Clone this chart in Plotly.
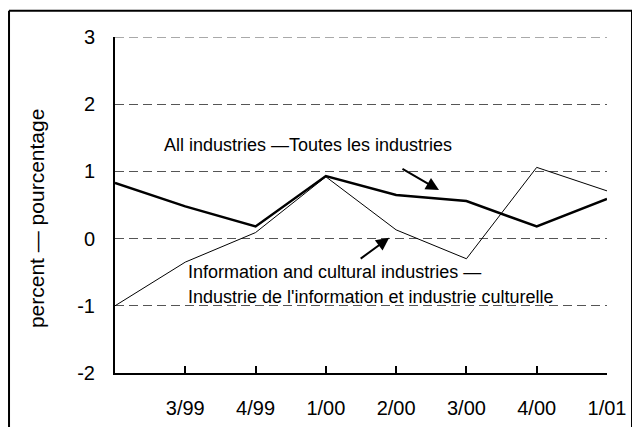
import plotly.graph_objects as go

# ---- data ----
quarters = ["2/99", "3/99", "4/99", "1/00", "2/00", "3/00", "4/00", "1/01"]
tick_labels = ["3/99", "4/99", "1/00", "2/00", "3/00", "4/00", "1/01"]
all_industries = [0.83, 0.48, 0.18, 0.93, 0.65, 0.56, 0.18, 0.59]
info_cultural = [-1.00, -0.35, 0.09, 0.92, 0.13, -0.30, 1.06, 0.71]
y_ticks = [-2, -1, 0, 1, 2, 3]

FONT = "Liberation Sans, Arial, sans-serif"
GRID_COLOR = "#555555"
GRID_DASH = "9px,5px"

fig = go.Figure()
fig.add_trace(go.Scatter(x=quarters, y=info_cultural, mode="lines",
                         line=dict(color="black", width=1), showlegend=False))
fig.add_trace(go.Scatter(x=quarters, y=all_industries, mode="lines",
                         line=dict(color="black", width=2.5), showlegend=False))

fig.update_layout(
    width=640, height=427,
    margin=dict(l=107, r=41, t=29, b=62),
    paper_bgcolor="white", plot_bgcolor="white",
    font=dict(family=FONT, color="black", size=20),
    showlegend=False,
)
fig.update_xaxes(
    type="category", range=[0, len(quarters) - 1],
    tickvals=quarters[1:], ticktext=tick_labels,
    showline=True, linecolor="black", linewidth=2,
    ticks="inside", ticklen=7, tickwidth=2, tickcolor="black",
    ticklabelstandoff=16, showgrid=False, zeroline=False,
    tickfont=dict(size=20),
)
fig.update_yaxes(
    range=[-2, 3], tickvals=y_ticks, ticktext=[str(v) for v in y_ticks],
    showline=True, linecolor="black", linewidth=2, ticks="",
    showgrid=True, gridcolor=GRID_COLOR, gridwidth=1, griddash=GRID_DASH,
    zeroline=False, ticklabelstandoff=14, tickfont=dict(size=20),
)

# top gridline (at the range edge)
fig.add_shape(type="line", xref="paper", yref="y", x0=0, x1=1,
              y0=y_ticks[-1], y1=y_ticks[-1],
              line=dict(color=GRID_COLOR, width=1, dash=GRID_DASH), layer="below")

# outer frame (drawn as separate lines)
frame = dict(color="black", width=2)
fig.add_shape(type="line", xref="paper", yref="paper",
              x0=-0.2154, x1=1.0508, y0=1.078, y1=1.078, line=frame)
fig.add_shape(type="line", xref="paper", yref="paper",
              x0=-0.2154, x1=-0.2154, y0=-0.5, y1=1.078, line=frame)
fig.add_shape(type="line", xref="paper", yref="paper",
              x0=1.0508, x1=1.0508, y0=-0.5, y1=1.078, line=frame)

ann_font = dict(family=FONT, size=18, color="black")
fig.add_annotation(text="percent — pourcentage", textangle=-90,
                   xref="paper", yref="paper", x=-0.1606, y=0.461,
                   xanchor="center", yanchor="middle", showarrow=False,
                   font=dict(family=FONT, size=21, color="black"))
fig.add_annotation(text="All industries —Toutes les industries",
                   xref="paper", yref="paper", x=0.0955, y=0.6786,
                   xanchor="left", yanchor="middle", showarrow=False, font=ann_font)
fig.add_annotation(text="Information and cultural industries —",
                   xref="paper", yref="paper", x=0.1443, y=0.3015,
                   xanchor="left", yanchor="middle", showarrow=False, font=ann_font)
fig.add_annotation(text="Industrie de l'information et industrie culturelle",
                   xref="paper", yref="paper", x=0.1443, y=0.2271,
                   xanchor="left", yanchor="middle", showarrow=False, font=ann_font)
# arrows
fig.add_annotation(text="", xref="paper", yref="paper", x=0.6585, y=0.5446,
                   ax=-38, ay=-22, showarrow=True, arrowhead=2, arrowsize=1.3,
                   arrowwidth=2, arrowcolor="black")
fig.add_annotation(text="", xref="paper", yref="paper", x=0.5573, y=0.4027,
                   ax=-30, ay=22, showarrow=True, arrowhead=2, arrowsize=1.3,
                   arrowwidth=2, arrowcolor="black")

fig.write_html("out.html")
